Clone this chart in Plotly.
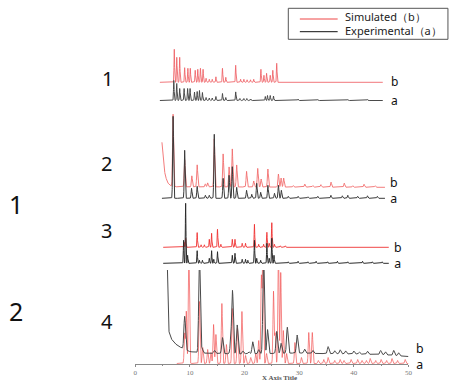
import numpy as np
import plotly.graph_objects as go

W, H = 471, 381

# ---------------- DATA (2-theta in degrees, intensity in arbitrary units) ----------------
# Panel 1
p1_range = [4.5, 45.3]
p1_sim_pos = [7.14, 7.59, 8.13, 9.04, 9.63, 10.07, 10.97, 11.44, 11.93, 12.41, 12.96, 13.55, 14.09, 14.76,
              15.96, 16.57, 18.38, 19.28, 19.88, 20.47, 21.09, 21.68, 23.0, 23.55, 24.03, 24.7, 25.17, 25.89]
p1_sim_int = [33, 25, 25, 14.6, 14, 14, 12, 13, 14, 13, 4, 3, 3, 5.5,
              14, 5, 17, 3, 3, 2.5, 2.5, 3, 13, 7, 9, 7, 12, 19]
p1_exp_pos = [7.05, 7.59, 8.13, 8.94, 9.58, 10.03, 10.84, 11.33, 11.75, 12.29, 12.96, 13.55, 14.09, 14.76,
              15.96, 16.57, 18.38, 19.15, 19.88, 20.42, 21.14, 23.8, 24.2, 24.7, 25.3,
              29.8, 33.4, 38.9, 42.5]
p1_exp_int = [20, 17, 12, 12, 12, 12, 8.5, 9, 10, 8, 3, 2.5, 2.5, 4,
              7, 3, 8.6, 2, 2, 2, 1.5, 4, 5, 5, 4.5,
              1.5, 1, 1, 1]

# Panel 2
p2_range = [4.88, 45.7]
p2_sim_bg_x = [4.88, 5.0, 5.2, 5.42, 5.7, 6.02, 6.5, 7.5, 45.7]
p2_sim_bg_y = [45, 35, 24, 14, 8, 4, 1.5, 0.5, 0]
p2_sim_pos = [6.92, 9.04, 10.35, 11.33, 12.83, 13.25, 14.46, 16.08, 17.17, 17.76, 18.56, 20.37, 21.68,
              22.41, 23.04, 24.27, 26.2, 26.69, 27.16, 28.9, 31.03, 32.5, 33.97, 35.83, 38.25, 39.8,
              41.87, 43.9]
p2_sim_int = [72, 27, 11, 22, 3, 4, 48, 33, 20, 38, 22, 15.6, 6,
              18.6, 8, 18, 13, 9, 9, 1.5, 3, 1.5, 2.5, 5, 4, 1.5,
              3, 1.5]
p2_exp_pos = [6.92, 9.04, 10.3, 11.33, 12.83, 13.55, 14.46, 16.08, 17.17, 17.76, 18.56, 20.37, 21.32,
              22.23, 22.95, 24.27, 25.48, 26.2, 26.74, 28.0, 29.8, 31.6, 33.4, 35.8, 37.9, 38.9, 40.7,
              42.5, 44.3]
p2_exp_int = [82, 48, 10, 12, 3, 3, 64, 20, 23, 31.6, 11, 8, 4,
              15, 6, 13, 5, 13, 8, 2, 2, 1.5, 2, 3, 2.5, 3, 2,
              2.5, 2]

# Panel 3
p3_range = [5.11, 46.4]
p3_sim_pos = [8.94, 9.22, 11.33, 12.05, 12.65, 13.55, 13.97, 15.05, 15.67, 17.76, 18.25, 19.57, 20.18,
              21.81, 22.59, 23.49, 24.09, 24.52, 24.99, 25.48, 26.56, 27.47]
p3_sim_int = [5, 9, 14.7, 2.5, 2.5, 8, 14, 18, 3, 8, 8, 4, 4,
              23, 3, 3, 15, 4, 24.6, 3, 1.5, 1.5]
p3_exp_pos = [8.85, 9.22, 9.58, 11.33, 11.75, 12.29, 13.55, 13.97, 14.37, 15.05, 17.76, 18.25, 19.57,
              20.18, 20.6, 21.81, 22.23, 22.95, 24.09, 24.52, 24.99, 25.39,
              28.0, 29.8, 31.6, 33.1, 35.2, 37.0, 38.9, 41.6, 43.4, 45.2]
p3_exp_int = [23, 60, 8, 12.6, 3, 3, 5, 12.6, 4, 11.6, 8, 10, 4,
              4, 3, 23, 5, 3, 20, 5, 25, 8,
              1.5, 2, 1.5, 2, 1.5, 2, 1.5, 2, 1.5, 1.5]

# Panel 4 (the only panel with a visible 2-theta axis)
p4_sim_range = [7.6, 50]
p4_exp_range = [5.72, 50]
p4_exp_bg_x = [5.72, 5.95, 6.14, 6.5, 7.0, 7.6, 8.5, 9.94, 11.75, 19.0, 25.0, 30.0, 33.4, 40.0, 45.0, 50.0]
p4_exp_bg_y = [130, 60, 33, 26, 22, 19, 16, 12.5, 11, 10, 10.5, 11, 10.5, 10, 9.5, 7.5]
p4_sim_pos = [9.04, 9.34, 9.81, 11.75, 12.34, 13.25, 13.86, 14.33, 14.76, 15.85, 16.68, 17.76, 18.7,
              19.52, 20.18, 21.14, 22.05, 22.59, 23.08, 23.36, 24.03, 25.3, 25.6, 26.2, 26.62, 27.1,
              27.7, 29.22, 30.41, 31.75, 32.4, 33.5, 34.5, 35.3, 36.5, 37.5, 38.2, 39.5, 40.7, 41.5,
              42.3, 43.0, 44.0, 45.0, 46.0, 47.0, 48.0, 49.4]
p4_sim_int = [30, 52, 120, 62, 16, 14, 11, 39, 29, 60, 19, 55, 36,
              52, 8, 6, 10, 23, 86, 120, 10, 72, 30, 120, 91, 33,
              10, 21, 6, 31, 31, 3, 4, 6, 3, 4, 3, 4, 4, 3,
              3, 5, 3, 4, 3, 5, 3, 4]
p4_exp_pos = [9.04, 11.75, 12.23, 14.5, 15.96, 17.5, 17.8, 18.66, 19.7, 20.8, 21.5, 22.6, 23.49,
              24.21, 25.89, 26.69, 27.83, 29.63, 31.0, 32.5, 35.3, 36.5, 37.5, 38.5, 40.0, 41.0,
              42.5, 44.9, 45.8, 47.3, 48.2]
p4_exp_int = [33, 100, 5, 3, 16, 14, 62, 29, 3, 2, 12, 4, 100,
              24, 22, 10, 26, 18, 4, 3, 7, 3, 4, 3, 3, 2,
              3, 4, 3, 5, 3]

# stacking offsets of the simulated pattern above the experimental one
p1_offset = 18.2
p2_offset = 11.0
p3_offset = 16.0
p4_sim_offset = 0.5

legend_names = ["Simulated（b）", "Experimental（a）"]
x_ticks = [0, 10, 20, 30, 40, 50]
x_title = "X Axis Title"


# ---------------- helpers ----------------
def profile(xr, pos, inten, sigma, bg_x=None, bg_y=None, offset=0.0):
    x = np.arange(xr[0], xr[1] + 1e-9, 0.01)
    y = np.zeros_like(x)
    for p, h in zip(pos, inten):
        y += h * np.exp(-0.5 * ((x - p) / sigma) ** 2)
    if bg_x is not None:
        y += np.interp(x, bg_x, bg_y)
    return x, y + offset


def px(x):
    return x / W


def py(y):
    return 1 - y / H


fig = go.Figure()

panels = [
    # (axis suffix, sim curve, exp curve, sim colour, exp colour)
    ("2", profile(p1_range, p1_sim_pos, p1_sim_int, 0.055, offset=p1_offset),
     profile(p1_range, p1_exp_pos, p1_exp_int, 0.055), "rgba(238,95,100,0.85)", "#4a4a4a"),
    ("3", profile(p2_range, p2_sim_pos, p2_sim_int, 0.09, p2_sim_bg_x, p2_sim_bg_y, offset=p2_offset),
     profile(p2_range, p2_exp_pos, p2_exp_int, 0.08), "rgba(242,110,110,0.9)", "#3a3a3a"),
    ("4", profile(p3_range, p3_sim_pos, p3_sim_int, 0.055, offset=p3_offset),
     profile(p3_range, p3_exp_pos, p3_exp_int, 0.055), "rgba(240,50,50,0.9)", "#2b2b2b"),
    ("", profile(p4_sim_range, p4_sim_pos, p4_sim_int, 0.1, offset=p4_sim_offset),
     profile(p4_exp_range, p4_exp_pos, p4_exp_int, 0.14, p4_exp_bg_x, p4_exp_bg_y),
     "rgba(242,85,85,0.7)", "#4a4a4a"),
]

for suf, (xs, ys), (xe, ye), cs, ce in panels:
    fig.add_trace(go.Scatter(x=xs, y=ys, mode="lines", line=dict(color=cs, width=1),
                             xaxis="x" + suf, yaxis="y" + suf, showlegend=False, hoverinfo="skip"))
    fig.add_trace(go.Scatter(x=xe, y=ye, mode="lines", line=dict(color=ce, width=1),
                             xaxis="x" + suf, yaxis="y" + suf, showlegend=False, hoverinfo="skip"))

xdom = [px(135), px(411.7)]
hidden_x = dict(domain=xdom, range=[0, 50], visible=False)

fig.update_layout(
    width=W, height=H,
    margin=dict(l=0, r=0, t=0, b=0),
    paper_bgcolor="white", plot_bgcolor="rgba(0,0,0,0)",
    showlegend=False,
    # panel 4 (real axis)
    xaxis=dict(domain=xdom, range=[0, 50], anchor="y", showline=True, linecolor="#8a8a8a", linewidth=1,
               ticks="outside", ticklen=2, tickcolor="#8a8a8a", tickvals=x_ticks,
               tickfont=dict(family="Liberation Serif", size=7, color="#777"),
               minor=dict(dtick=5, ticks="outside", ticklen=1, tickcolor="#8a8a8a"),
               showgrid=False, zeroline=False, ticklabelstandoff=0),
    yaxis=dict(domain=[py(364), py(270)], range=[0, 94], visible=False, anchor="x"),
    xaxis2=dict(hidden_x, anchor="y2"),
    yaxis2=dict(domain=[py(103.5), py(45)], range=[-3, 55.5], visible=False, anchor="x2"),
    xaxis3=dict(hidden_x, anchor="y3"),
    yaxis3=dict(domain=[py(201.3), py(110)], range=[-3, 88.3], visible=False, anchor="x3"),
    xaxis4=dict(hidden_x, anchor="y4"),
    yaxis4=dict(domain=[py(266.3), py(200)], range=[-3, 63.3], visible=False, anchor="x4"),
)

ann = []


def label(text, x, y, size, family="Noto Sans", color="#111", bold=False):
    ann.append(dict(text=("<b>%s</b>" % text) if bold else text, x=px(x), y=py(y), xref="paper", yref="paper",
                    showarrow=False, xanchor="center", yanchor="middle",
                    font=dict(family=family, size=size, color=color)))


# panel numbers
for t, (x, y) in zip(["1", "2", "3", "4"], [(106.5, 78.5), (106, 163), (106, 230.5), (106, 321.7)]):
    label(t, x, y, 20)
# big left numbers
label("1", 14, 204, 25)
label("2", 14.5, 311.3, 25)
# a / b curve labels (panel 1 separately, others as two-line labels)
label("b", 397.5, 81, 12)
label("a", 397.5, 100, 12)
for x, yb, ya in [(397.5, 182, 198.3), (400.8, 247, 263), (423, 349, 364.7)]:
    label("b<br>a", x, (yb + ya) / 2, 12.3)
# axis title
label(x_title, 281.5, 378, 7, family="Liberation Serif", color="#555", bold=True)

# legend
ann.append(dict(text=legend_names[0], x=px(345), y=py(16.5), xref="paper", yref="paper", showarrow=False,
                xanchor="left", yanchor="middle", font=dict(family="Noto Sans", size=11, color="#222")))
ann.append(dict(text=legend_names[1], x=px(345), y=py(30.5), xref="paper", yref="paper", showarrow=False,
                xanchor="left", yanchor="middle", font=dict(family="Noto Sans", size=11, color="#222")))
fig.update_layout(annotations=ann)

shapes = [
    dict(type="rect", xref="paper", yref="paper", x0=px(290), x1=px(451.7), y0=py(39.3), y1=py(8.3),
         line=dict(color="#555", width=1), fillcolor="rgba(0,0,0,0)"),
    dict(type="line", xref="paper", yref="paper", x0=px(301.7), x1=px(340), y0=py(19), y1=py(19),
         line=dict(color="rgb(238,70,70)", width=1)),
    dict(type="line", xref="paper", yref="paper", x0=px(301.7), x1=px(340), y0=py(31.7), y1=py(31.7),
         line=dict(color="#111", width=1)),
]
fig.update_layout(shapes=shapes)

fig.write_html("out.html", config={"displayModeBar": False, "staticPlot": True},
               post_script="document.body.style.margin='0';document.body.style.overflow='hidden';")
